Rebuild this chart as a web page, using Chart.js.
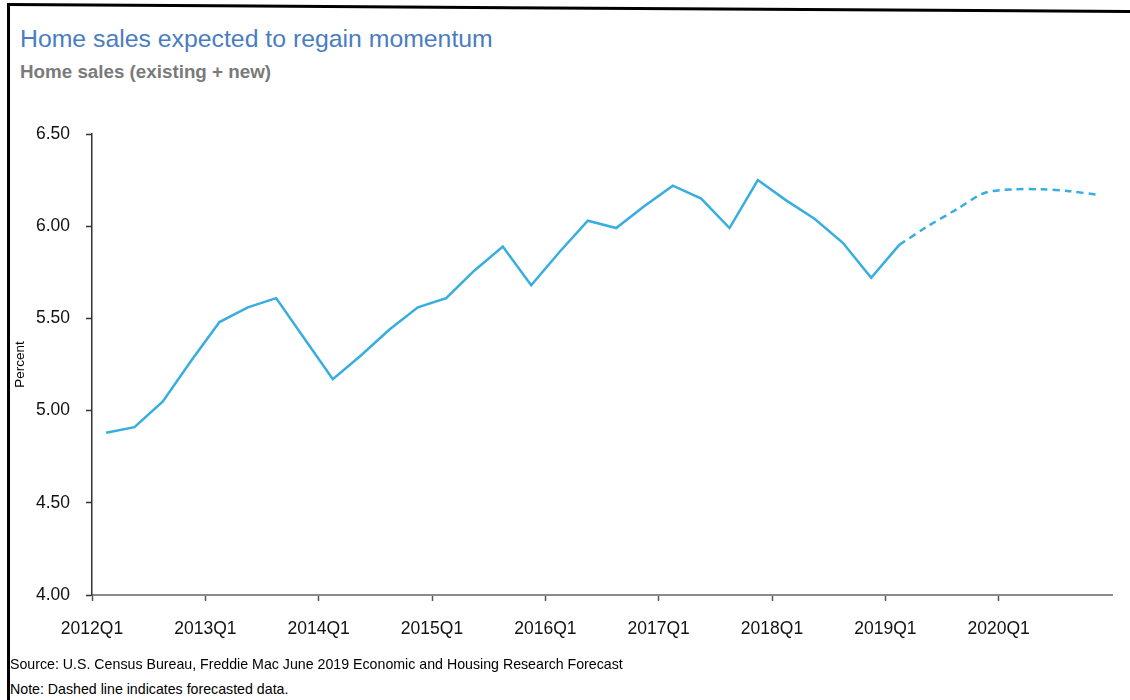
<!DOCTYPE html>
<html>
<head>
<meta charset="utf-8">
<script src="https://cdn.jsdelivr.net/npm/chart.js@4"></script>
<style>
html,body{margin:0;padding:0;background:#fff;}
#frame{position:absolute;left:0;top:0;width:1130px;height:700px;overflow:hidden;font-family:"Liberation Sans",Arial,sans-serif;background:#fff;}
#bl{position:absolute;left:7px;top:3px;width:3px;height:700px;background:#000;}
#bt{position:absolute;left:7px;top:3px;width:1130px;height:3px;background:#000;transform-origin:0 0;transform:rotate(0.36deg);}
#title{position:absolute;left:20px;top:27px;font-size:24.8px;line-height:24.8px;color:#4a7dbf;white-space:nowrap;}
#subtitle{position:absolute;left:20px;top:63px;font-size:18.8px;line-height:18.8px;font-weight:bold;color:#7a7a7a;white-space:nowrap;}
#wrap{position:absolute;left:10px;top:100px;width:1120px;height:560px;}
.foot{position:absolute;left:10px;font-size:14.2px;line-height:14px;color:#000;white-space:nowrap;}
</style>
</head>
<body>
<div id="frame">
  <div id="bl"></div>
  <div id="bt"></div>
  <div id="title">Home sales expected to regain momentum</div>
  <div id="subtitle">Home sales (existing + new)</div>
  <div id="wrap"><canvas id="c"></canvas></div>
  <div class="foot" style="top:657px;">Source: U.S. Census Bureau, Freddie Mac June 2019 Economic and Housing Research Forecast</div>
  <div class="foot" style="top:682px;">Note: Dashed line indicates forecasted data.</div>
</div>
<script>
const quarters = [
  '2012Q1','2012Q2','2012Q3','2012Q4','2013Q1','2013Q2','2013Q3','2013Q4',
  '2014Q1','2014Q2','2014Q3','2014Q4','2015Q1','2015Q2','2015Q3','2015Q4',
  '2016Q1','2016Q2','2016Q3','2016Q4','2017Q1','2017Q2','2017Q3','2017Q4',
  '2018Q1','2018Q2','2018Q3','2018Q4','2019Q1','2019Q2','2019Q3','2019Q4',
  '2020Q1','2020Q2','2020Q3','2020Q4'
];
const xTickLabels = ['2012Q1','2013Q1','2014Q1','2015Q1','2016Q1','2017Q1','2018Q1','2019Q1','2020Q1'];
const yTickValues = [4.00, 4.50, 5.00, 5.50, 6.00, 6.50];

// Actual: 2012Q1 - 2019Q1
const actualSales = [
  4.88, 4.91, 5.05, 5.27, 5.48, 5.56, 5.61, 5.39,
  5.17, 5.30, 5.44, 5.56, 5.61, 5.76, 5.89, 5.68,
  5.86, 6.03, 5.99, 6.11, 6.22, 6.15, 5.99, 6.25,
  6.14, 6.04, 5.91, 5.72, 5.90
];
// Forecast: 2019Q1 - 2020Q4
const forecastQuarters = ['2019Q1','2019Q2','2019Q3','2019Q4','2020Q1','2020Q2','2020Q3','2020Q4'];
const forecastSales = [5.90, 6.00, 6.09, 6.18, 6.20, 6.20, 6.19, 6.17];

const LINE_COLOR = '#38ade0';
const FONT = '"Liberation Sans", Arial, sans-serif';

function toPoints(qs, vals) {
  return qs.map((q, i) => ({ x: quarters.indexOf(q) + 0.5, y: vals[i] }));
}

new Chart(document.getElementById('c'), {
  type: 'line',
  data: {
    datasets: [
      {
        label: 'Actual',
        data: toPoints(quarters.slice(0, actualSales.length), actualSales),
        borderColor: LINE_COLOR,
        borderWidth: 2.5,
        pointRadius: 0,
        tension: 0,
        fill: false
      },
      {
        label: 'Forecast',
        data: toPoints(forecastQuarters, forecastSales),
        borderColor: LINE_COLOR,
        borderWidth: 2.5,
        borderDash: [7, 5],
        pointRadius: 0,
        tension: 0.3,
        fill: false
      }
    ]
  },
  options: {
    responsive: true,
    maintainAspectRatio: false,
    animation: false,
    devicePixelRatio: 1,
    layout: { padding: { top: 34, right: 18, left: 0, bottom: 0 } },
    plugins: { legend: { display: false }, tooltip: { enabled: false } },
    scales: {
      x: {
        type: 'linear',
        min: 0,
        max: quarters.length,
        afterBuildTicks: (s) => { s.ticks = xTickLabels.map(l => ({ value: quarters.indexOf(l) })); },
        afterFit: (s) => { s.height = 65; },
        ticks: {
          autoSkip: false,
          maxRotation: 0,
          padding: 18,
          color: '#111',
          font: { family: FONT, size: 17.5 },
          callback: (v) => quarters[v]
        },
        grid: { drawOnChartArea: false, drawTicks: true, tickLength: 6, tickColor: '#555', tickWidth: 1.5 },
        border: { display: true, color: '#8a8a8a', width: 2 }
      },
      y: {
        min: yTickValues[0],
        max: yTickValues[yTickValues.length - 1],
        afterBuildTicks: (s) => { s.ticks = yTickValues.map(v => ({ value: v })); },
        afterFit: (s) => { s.width = 82; },
        ticks: {
          padding: 16,
          color: '#111',
          font: { family: FONT, size: 17.5 },
          callback: (v) => Number(v).toFixed(2)
        },
        grid: { drawOnChartArea: false, drawTicks: true, tickLength: 6, tickColor: '#333', tickWidth: 1.5 },
        border: { display: true, color: '#333', width: 1.5 },
        title: {
          display: true,
          text: 'Percent',
          color: '#000',
          font: { family: FONT, size: 13.5 },
          padding: { top: 2, bottom: 0 }
        }
      }
    }
  }
});
</script>
</body>
</html>
